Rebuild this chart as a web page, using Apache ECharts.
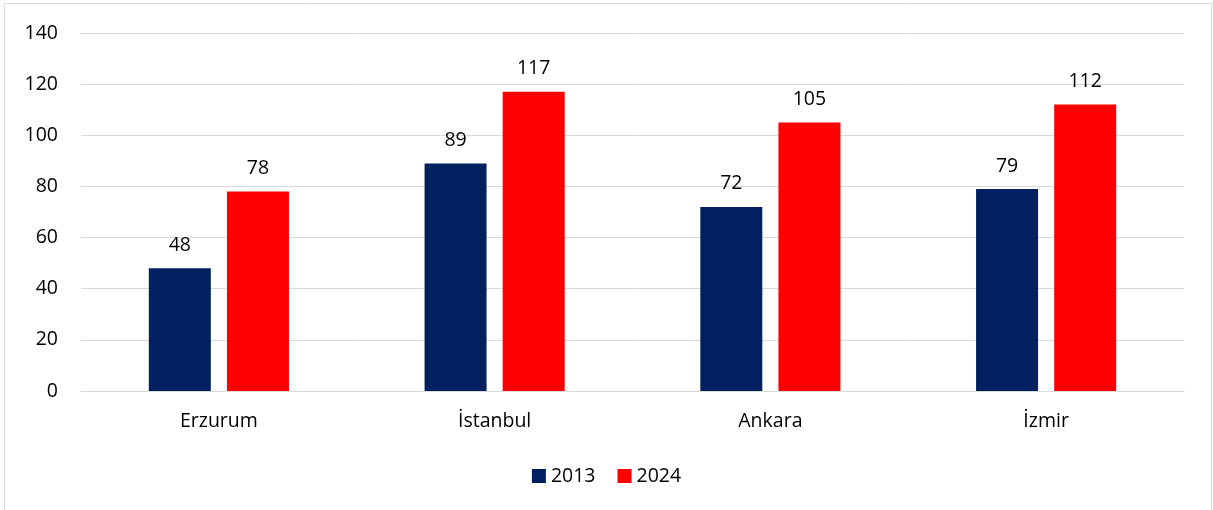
<!DOCTYPE html>
<html><head><meta charset="utf-8">
<script src="https://cdn.jsdelivr.net/npm/echarts@6/dist/echarts.min.js"></script>
<style>html,body{margin:0;padding:0;background:#fff}#c{width:1213px;height:510px}</style>
</head><body><div id="c"></div>
<script>
const categories = ['Erzurum', 'İstanbul', 'Ankara', 'İzmir'];
const series2013 = [48, 89, 72, 79];
const series2024 = [78, 117, 105, 112];
const seriesNames = ['2013', '2024'];
const FONT = '"Open Sans", Lato, sans-serif';
const FS = 19.5;
const chart = echarts.init(document.getElementById('c'));
const labelStyle = {show: true, position: 'top', distance: 13, color: '#000', fontSize: FS, fontFamily: FONT};
chart.setOption({
  animation: false,
  textStyle: {fontFamily: FONT},
  graphic: [
    {type: 'polyline', shape: {points: [[4.5, 512], [4.5, 3.5], [1211.5, 3.5], [1211.5, 512]]}, style: {stroke: '#d9d9d9', lineWidth: 1, fill: null}}
  ],
  grid: {left: 81, right: 29, top: 33, bottom: 119, containLabel: false},
  legend: {
    bottom: 19, left: 'center', itemWidth: 14, itemHeight: 14, itemGap: 22,
    textStyle: {fontSize: FS, color: '#000', fontFamily: FONT},
    data: [{name: seriesNames[0], icon: 'rect'}, {name: seriesNames[1], icon: 'rect'}]
  },
  xAxis: {
    type: 'category', data: categories,
    axisLine: {show: true, lineStyle: {color: '#d9d9d9', width: 1}},
    axisTick: {show: false},
    axisLabel: {color: '#000', fontSize: FS, margin: 20, fontFamily: FONT}
  },
  yAxis: {
    type: 'value', min: 0, max: 140, interval: 20,
    axisLine: {show: false}, axisTick: {show: false},
    axisLabel: {color: '#000', fontSize: FS, margin: 23, fontFamily: FONT},
    splitLine: {lineStyle: {color: '#d9d9d9', width: 1}}
  },
  series: [
    {name: seriesNames[0], type: 'bar', data: series2013, barWidth: 62, barGap: '26%', itemStyle: {color: '#002060'}, label: labelStyle},
    {name: seriesNames[1], type: 'bar', data: series2024, barWidth: 62, barGap: '26%', itemStyle: {color: '#ff0000'}, label: labelStyle}
  ]
});
</script></body></html>
